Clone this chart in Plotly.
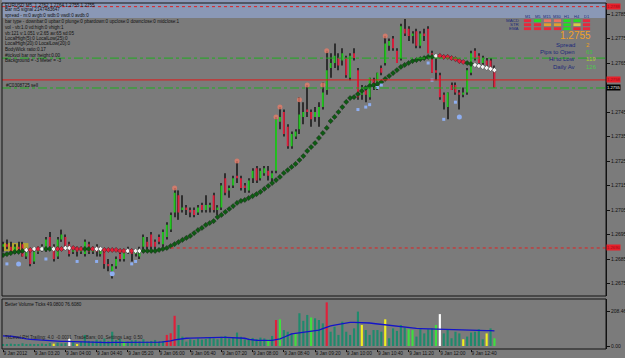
import plotly.graph_objects as go

# ---------------- data ----------------
opens = [1.2690,1.2691,1.2690,1.2688,1.2690,1.2691,1.2686,1.2688,1.2684,1.2688,
         1.2689,1.2689,1.2694,1.2690,1.2686,1.2693,1.2694,1.2691,1.2688,1.2689,
         1.2688,1.2687,1.2691,1.2688,1.2690,1.2687,1.2688,1.2683,1.2680,1.2682,
         1.2687,1.2685,1.2689,1.2688,1.2687,1.2686,1.2690,1.2692,1.2695,1.2692,
         1.2694,1.2691,1.2694,1.2697,1.2704,1.2711,1.2705,1.2706,1.2705,1.2705,
         1.2704,1.2707,1.2705,1.2706,1.2711,1.2705,1.2706,1.2718,1.2713,1.2715,
         1.2719,1.2718,1.2715,1.2713,1.2718,1.2722,1.2718,1.2720,1.2721,1.2718,
         1.2721,1.2741,1.2745,1.2739,1.2731,1.2735,1.2738,1.2743,1.2746,1.2745,
         1.2743,1.2743,1.2747,1.2754,1.2763,1.2765,1.2767,1.2766,1.2767,1.2759,
         1.2769,1.2762,1.2752,1.2754,1.2751,1.2758,1.2756,1.2763,1.2765,1.2772,
         1.2775,1.2770,1.2767,1.2779,1.2779,1.2776,1.2778,1.2772,1.2777,1.2779,
         1.2769,1.2762,1.2760,1.2752,1.2747,1.2756,1.2756,1.2753,1.2752,1.2753,
         1.2761,1.2770,1.2768,1.2765,1.2766,1.2766,1.2762]
highs = [1.2692,1.2693,1.2692,1.2691,1.2692,1.2692,1.2689,1.2689,1.2689,1.2690,
         1.2691,1.2694,1.2696,1.2691,1.2694,1.2697,1.2695,1.2692,1.2690,1.2690,
         1.2690,1.2693,1.2692,1.2690,1.2691,1.2690,1.2689,1.2685,1.2683,1.2686,
         1.2689,1.2689,1.2690,1.2689,1.2689,1.2690,1.2695,1.2694,1.2696,1.2693,
         1.2695,1.2697,1.2700,1.2704,1.2714,1.2713,1.2711,1.2707,1.2706,1.2706,
         1.2707,1.2708,1.2711,1.2708,1.2712,1.2707,1.2716,1.2720,1.2715,1.2719,
         1.2725,1.2719,1.2716,1.2718,1.2722,1.2723,1.2722,1.2723,1.2723,1.2721,
         1.2743,1.2747,1.2746,1.2740,1.2737,1.2738,1.2751,1.2749,1.2756,1.2746,
         1.2747,1.2749,1.2757,1.2770,1.2769,1.2773,1.2769,1.2771,1.2768,1.2769,
         1.2771,1.2763,1.2756,1.2755,1.2759,1.2759,1.2761,1.2764,1.2776,1.2775,
         1.2776,1.2771,1.2781,1.2783,1.2780,1.2778,1.2779,1.2778,1.2779,1.2780,
         1.2770,1.2767,1.2761,1.2753,1.2753,1.2757,1.2757,1.2754,1.2755,1.2763,
         1.2770,1.2771,1.2769,1.2768,1.2767,1.2767,1.2764]
lows = [1.2688,1.2689,1.2687,1.2687,1.2688,1.2686,1.2685,1.2682,1.2683,1.2687,
        1.2688,1.2688,1.2690,1.2684,1.2685,1.2692,1.2689,1.2686,1.2687,1.2686,
        1.2687,1.2686,1.2687,1.2687,1.2686,1.2686,1.2681,1.2680,1.2677,1.2681,
        1.2684,1.2684,1.2687,1.2684,1.2686,1.2685,1.2689,1.2689,1.2689,1.2688,
        1.2691,1.2690,1.2693,1.2696,1.2702,1.2701,1.2704,1.2703,1.2702,1.2702,
        1.2703,1.2704,1.2704,1.2704,1.2704,1.2703,1.2705,1.2711,1.2710,1.2714,
        1.2716,1.2713,1.2712,1.2712,1.2716,1.2716,1.2717,1.2719,1.2717,1.2716,
        1.2720,1.2738,1.2735,1.2730,1.2730,1.2734,1.2736,1.2740,1.2743,1.2739,
        1.2741,1.2739,1.2746,1.2752,1.2759,1.2763,1.2762,1.2764,1.2759,1.2758,
        1.2766,1.2750,1.2750,1.2749,1.2750,1.2754,1.2754,1.2760,1.2764,1.2770,
        1.2770,1.2765,1.2766,1.2776,1.2774,1.2773,1.2771,1.2771,1.2774,1.2769,
        1.2761,1.2758,1.2750,1.2746,1.2742,1.2754,1.2752,1.2746,1.2751,1.2752,
        1.2760,1.2766,1.2764,1.2764,1.2763,1.2762,1.2755]
closes = [1.2691,1.2690,1.2688,1.2690,1.2689,1.2686,1.2688,1.2683,1.2688,1.2689,
          1.2690,1.2693,1.2690,1.2685,1.2693,1.2695,1.2690,1.2687,1.2689,1.2688,
          1.2689,1.2692,1.2688,1.2689,1.2688,1.2689,1.2683,1.2682,1.2682,1.2685,
          1.2685,1.2688,1.2688,1.2687,1.2688,1.2689,1.2694,1.2690,1.2690,1.2690,
          1.2692,1.2696,1.2699,1.2703,1.2712,1.2704,1.2706,1.2705,1.2704,1.2703,
          1.2706,1.2705,1.2707,1.2707,1.2705,1.2706,1.2715,1.2712,1.2714,1.2718,
          1.2718,1.2714,1.2714,1.2717,1.2721,1.2717,1.2721,1.2722,1.2719,1.2720,
          1.2742,1.2743,1.2736,1.2731,1.2736,1.2737,1.2744,1.2745,1.2745,1.2742,
          1.2745,1.2747,1.2753,1.2762,1.2765,1.2768,1.2764,1.2769,1.2760,1.2768,
          1.2767,1.2751,1.2755,1.2752,1.2759,1.2756,1.2761,1.2761,1.2773,1.2774,
          1.2771,1.2765,1.2780,1.2777,1.2776,1.2777,1.2772,1.2777,1.2776,1.2769,
          1.2761,1.2761,1.2751,1.2749,1.2753,1.2754,1.2753,1.2752,1.2753,1.2762,
          1.2769,1.2767,1.2765,1.2767,1.2764,1.2762,1.2755]

ma_values = [1.26866,1.26870,1.26874,1.26879,1.26879,1.26883,1.26887,1.26887,
             1.26891,1.26891,1.26891,1.26891,1.26891,1.26891,1.26891,1.26891,
             1.26895,1.26895,1.26895,
             1.26891,1.26891,1.26891,1.26891,1.26891,1.26891,1.26891,
             1.26887,1.26887,1.26887,1.26887,
             1.26883,1.26883,1.26883,1.26883,1.26883,1.26883,1.26883,1.26883,1.26883,1.26883,
             1.26887,1.26891,1.26895,1.26903,1.26911,1.26919,1.26928,1.26936,1.26944,1.26956,
             1.26968,1.26977,1.26989,1.26997,1.27005,1.27021,1.27030,1.27042,1.27054,1.27066,
             1.27079,1.27087,1.27091,1.27099,1.27107,1.27115,1.27124,1.27136,1.27148,1.27160,
             1.27172,1.27185,1.27201,1.27213,1.27226,1.27238,1.27254,1.27270,1.27291,1.27307,
             1.27323,1.27344,1.27364,1.27385,1.27413,1.27430,1.27450,1.27470,1.27491,1.27507,
             1.27511,1.27523,1.27536,1.27548,1.27556,1.27560,1.27564,1.27572,1.27585,1.27597,
             1.27609,1.27621,1.27634,1.27642,1.27650,1.27658,1.27662,1.27666,1.27670,1.27675,
             1.27675,1.27679,1.27679,1.27675,1.27675,1.27670,1.27666,1.27658,1.27654,1.27650,
             1.27646,1.27642,1.27638,1.27634,1.27630,1.27626,1.27621]
ma_state = (list("gggggg") + list("wrwrwggwrrwwrrrggrww") + list("rrrrrr") + list("wrww")
            + ["g"] * 75 + ["w"] + ["r"] * 7 + ["g"] * 2 + ["w"] * 6)

volumes = [12,10,14,9,12,16,11,13,10,12,15,11,18,14,20,15,17,48,22,10,
           25,66,30,28,38,32,45,30,85,36,42,30,26,34,36,28,40,26,30,36,
           26,30,66,76,180,125,56,26,40,35,45,38,42,50,45,40,55,60,45,50,
           80,55,40,45,48,42,50,45,40,60,155,159,95,85,75,75,195,150,185,170,
           165,155,135,260,85,115,66,145,85,66,105,205,125,95,66,95,95,85,159,46,
           105,90,125,110,100,95,56,100,75,100,105,125,190,75,95,46,85,75,40,56,
           80,85,100,40,75,105,46]
vol_state = ("tttttttttttttytttwty" "tttttttttttgtttttttt"
             "ttrrrttttttttttttttt" "ttttttttgtrgtttgtttg"
             "tttrttttttttytttttyt" "ttttggtttttgwttttty"
             "tttttytgt")
vol_ma = [60,60,58,55,50,46,42,40,38,37,36,34,32,30,29,28,27,26,25,24,
          23,22,21,21,20,20,20,20,21,21,20,20,20,20,20,21,21,21,22,22,
          23,25,27,31,36,40,43,46,47,48,49,49,50,50,50,50,51,51,50,50,
          50,50,46,40,36,34,33,32,32,34,38,42,52,62,72,75,78,80,82,86,
          90,95,103,112,120,125,130,135,139,141,141,141,140,139,137,134,131,129,126,124,
          121,119,116,113,110,107,105,104,103,102,101,100,99,99,98,97,97,96,96,95,
          94,93,92,92,91,91,90]

time_ticks = [0, 8, 16, 24, 32, 40, 48, 56, 64, 72, 80, 88, 96, 104, 112, 120]
time_labels = ["9 Jan 2012", "9 Jan 03:20", "9 Jan 04:00", "9 Jan 04:40", "9 Jan 05:20",
               "9 Jan 06:00", "9 Jan 06:40", "9 Jan 07:20", "9 Jan 08:00", "9 Jan 08:40",
               "9 Jan 09:20", "9 Jan 10:00", "9 Jan 10:40", "9 Jan 11:20", "9 Jan 12:00",
               "9 Jan 12:40"]
price_ticks = [1.2675, 1.2685, 1.2695, 1.2705, 1.2715, 1.2725, 1.2735, 1.2745,
               1.2755, 1.2765, 1.2775, 1.2785]

high_marks_x = [44, 60, 70, 71, 76, 78, 82, 83, 98]
high_marks_y = [1.2714, 1.2725, 1.2743, 1.2747, 1.2750, 1.2756, 1.2756, 1.2770, 1.2776]
low_marks_x = [1, 11, 19, 24, 33, 34, 91, 93, 94, 96, 97, 109, 110, 113, 116]
low_marks_y = [1.2683, 1.2685, 1.2684, 1.2684, 1.2683, 1.2684, 1.2746, 1.2747, 1.2748,
               1.2755, 1.2756, 1.2765, 1.2758, 1.2742, 1.2749]
big_low_x = [4, 28, 117]
big_low_y = [1.2683, 1.2679, 1.2743]

level_top = 1.27880
level_green_hi = 1.27670
level_red = 1.27581
level_bid = 1.27548
level_low = 1.26895
level_low_start = 43
zone_x = [-0.25, 6.5]
zone_y = [1.26883, 1.26915]

tf_cols = ["M1", "M5", "M15", "M30", "H1", "H4", "D1"]
tf_rows = ["MACD", "STR", "EMA"]
tf_cells = [["r", "g", "s", "s", "g", "g", "r"],
            ["r", "r", "o", "o", "g", "y", "r"],
            ["r", "r", "r", "r", "g", "r", "r"]]
info_labels = ["Spread", "Pips to Open", "Hi to Low", "Daily Av"]
info_values = ["2", "63", "119", "126"]
info_value_colors = ["#e8a020", "#40c040", "#a8d030", "#50c850"]
big_price = "1.2755"

header_lines = ["EURUSD,M5  1.2762 1.2764 1.2755 1.2755",
                "Bar m5 signal 2147483647",
                "spread - m:0 avgb:0 wdb:0 vwdl:0 avdb:0",
                "bar type - downbar:0 upbar:0 plunge:0 pbardown:0 upclose:0 downclose:0 midclose:1",
                "vol - vb:1.0 vd:high:0 vhigh:1",
                "vb:121 v:1.051 v:2.65 av:65 sd:05",
                "LocalHigh(5):0 LocalLow(25):0",
                "LocalHigh(20):0 LocalLow(20):0",
                "BodyWick ratio:0.17",
                "#tickvol bar nor height:0.00",
                "Background = -3 Meter = -3"]

# ---------------- layout geometry ----------------
W, H = 625, 358
ML, MR, MT, MB = 2, 19, 3, 9
PW, PH = W - ML - MR, H - MT - MB


def fx(p):
    return (p - ML) / PW


def fy(p):
    return (H - MB - p) / PH


BG = "#7b7b7b"
GREEN = "#22c41f"
RED = "#dc1e3c"
WICK = "#2e2e2e"
FONT = "Liberation Sans"

n = len(opens)
idx = list(range(n))

fig = go.Figure()

# wicks (bar layer, drawn beneath the bodies)
fig.add_trace(go.Bar(x=idx, y=[h - l for h, l in zip(highs, lows)], base=lows, width=0.27,
                     marker=dict(color=WICK, line=dict(width=0)),
                     hoverinfo="skip", showlegend=False, xaxis="x", yaxis="y"))

# candle bodies
fig.add_trace(go.Candlestick(
    x=idx, open=opens, high=highs, low=lows, close=closes,
    increasing=dict(line=dict(color=GREEN, width=0), fillcolor=GREEN),
    decreasing=dict(line=dict(color=RED, width=0), fillcolor=RED),
    whiskerwidth=0, hoverinfo="skip", showlegend=False, xaxis="x", yaxis="y"))

# moving-average dots
ma_map = {"g": "#0d5c12", "r": "#e0203a", "w": "#f4f4f4"}
fig.add_trace(go.Scatter(x=idx, y=ma_values, mode="markers",
                         marker=dict(symbol="diamond", size=4,
                                     color=[ma_map[s] for s in ma_state],
                                     line=dict(color="#1a1a1a", width=0.4)),
                         hoverinfo="skip", showlegend=False, xaxis="x", yaxis="y"))

# high markers
fig.add_trace(go.Scatter(x=high_marks_x, y=high_marks_y, mode="markers",
                         marker=dict(symbol="circle", size=5, color="rgba(236,124,104,0.75)"),
                         hoverinfo="skip", showlegend=False, xaxis="x", yaxis="y"))
# low markers
fig.add_trace(go.Scatter(x=low_marks_x, y=low_marks_y, mode="markers",
                         marker=dict(symbol="square", size=3, color="#8eaef0"),
                         hoverinfo="skip", showlegend=False, xaxis="x", yaxis="y"))
fig.add_trace(go.Scatter(x=big_low_x, y=big_low_y, mode="markers",
                         marker=dict(symbol="circle", size=5, color="#8eaef0"),
                         hoverinfo="skip", showlegend=False, xaxis="x", yaxis="y"))

# volume
vol_map = {"t": "#1f8a6c", "r": "#e0203a", "g": "#3ee03e", "y": "#f0f020", "w": "#ffffff"}
fig.add_trace(go.Bar(x=idx, y=volumes, width=0.55,
                     marker=dict(color=[vol_map[s] for s in vol_state], line=dict(width=0)),
                     hoverinfo="skip", showlegend=False, xaxis="x2", yaxis="y2"))
fig.add_trace(go.Scatter(x=idx, y=vol_ma, mode="lines", line=dict(color="#1414c8", width=1.3),
                         hoverinfo="skip", showlegend=False, xaxis="x2", yaxis="y2"))

xr = [-0.256, 154.6]
main_dom = [fy(296), 1]
vol_dom = [0, fy(299)]

# the bid box covers the tick label at the bid level, as in the terminal
price_text = ["" if abs(p - level_bid) < 0.0002 else f"{p:.4f}" for p in price_ticks]

fig.update_layout(
    width=W, height=H,
    margin=dict(l=ML, r=MR, t=MT, b=MB, pad=0),
    paper_bgcolor=BG, plot_bgcolor=BG,
    barmode="overlay",
    font=dict(family=FONT, size=5, color="#111111"),
    showlegend=False,
    xaxis=dict(domain=[0, 1], range=xr, anchor="y", showticklabels=False, ticks="",
               showgrid=False, zeroline=False, rangeslider=dict(visible=False),
               showline=False, fixedrange=True),
    yaxis=dict(domain=main_dom, range=[1.266990, 1.278949], side="right", anchor="x",
               tickvals=price_ticks, ticktext=price_text,
               ticks="outside", ticklen=3, tickcolor="#111111", tickwidth=1,
               tickfont=dict(size=5, color="#111111", family=FONT),
               showgrid=False, zeroline=False, showline=True, linecolor="#111111",
               linewidth=1, automargin=False),
    xaxis2=dict(domain=[0, 1], range=xr, anchor="y2", matches="x",
                tickvals=time_ticks, ticktext=time_labels, ticks="outside", ticklen=2,
                tickcolor="#111111", ticklabelposition="outside right",
                tickangle=0, ticklabelstandoff=-1,
                tickfont=dict(size=4.8, color="#111111", family=FONT),
                showgrid=False, zeroline=False, showline=False, automargin=False),
    yaxis2=dict(domain=vol_dom, range=[-17.9, 280], side="right", anchor="x2",
                tickvals=[0, 208.46], ticktext=["0.00", "208.46"],
                ticks="outside", ticklen=3, tickcolor="#111111",
                tickfont=dict(size=5, color="#111111", family=FONT),
                showgrid=False, zeroline=False, showline=True, linecolor="#111111",
                linewidth=1, automargin=False),
)

shapes = []
# top information band
shapes.append(dict(type="rect", xref="paper", yref="paper", x0=0, x1=1, y0=fy(18), y1=fy(0),
                   fillcolor="#8a98b6", line=dict(width=0), layer="below"))
# yellow zone at left
shapes.append(dict(type="rect", xref="x", yref="y", x0=zone_x[0], x1=zone_x[1],
                   y0=zone_y[0], y1=zone_y[1], fillcolor="#b4a632", line=dict(width=0),
                   layer="below"))
# horizontal levels
shapes.append(dict(type="line", xref="paper", yref="y", x0=0, x1=1, y0=level_top, y1=level_top,
                   line=dict(color="#e02020", width=1, dash="dot")))
shapes.append(dict(type="line", xref="paper", yref="y", x0=0, x1=1, y0=level_green_hi,
                   y1=level_green_hi, line=dict(color="#1fae1f", width=1, dash="dashdot")))
shapes.append(dict(type="line", xref="paper", yref="y", x0=0, x1=1, y0=level_red, y1=level_red,
                   line=dict(color="#e01818", width=1)))
shapes.append(dict(type="line", xref="paper", yref="y", x0=0, x1=1, y0=level_bid, y1=level_bid,
                   line=dict(color="#1fae1f", width=1, dash="dashdot")))
shapes.append(dict(type="line", xref="x", yref="y", x0=level_low_start, x1=xr[1], y0=level_low,
                   y1=level_low, line=dict(color="#e02020", width=1, dash="dot")))
# pane frames
shapes.append(dict(type="rect", xref="paper", yref="paper", x0=0, x1=1, y0=main_dom[0],
                   y1=main_dom[1], line=dict(color="#151515", width=1)))
shapes.append(dict(type="rect", xref="paper", yref="paper", x0=0, x1=1, y0=vol_dom[0],
                   y1=vol_dom[1], line=dict(color="#151515", width=1)))

# timeframe table cells
cell_map = {"r": "#e8283c", "g": "#22dd22", "s": "#f07060", "o": "#e0a030", "y": "#d8c848"}
col_px = [527.5, 537.5, 547.5, 557.5, 567, 577, 586.5]
row_py = [20.7, 24.7, 28.7]
for k, row in enumerate(tf_cells):
    for j, c in enumerate(row):
        shapes.append(dict(type="rect", xref="paper", yref="paper",
                           x0=fx(col_px[j] - 3.6), x1=fx(col_px[j] + 3.6),
                           y0=fy(row_py[k] + 1.4), y1=fy(row_py[k] - 1.4),
                           fillcolor=cell_map[c], line=dict(width=0)))
fig.update_layout(shapes=shapes)

ann = []
# header text block
line_y = [5, 10, 15.5, 22, 27.5, 33, 38.5, 44, 49.5, 55.5, 61]
for t, yy in zip(header_lines, line_y):
    ann.append(dict(xref="paper", yref="paper", x=fx(3), y=fy(yy), text=t, showarrow=False,
                    xanchor="left", yanchor="middle", font=dict(size=4.6, color="#111111")))
ann.append(dict(xref="paper", yref="paper", x=fx(4), y=fy(85), text="#C0308725 sell",
                showarrow=False, xanchor="left", yanchor="middle",
                font=dict(size=4.6, color="#111111")))
# table headers and row names
for j, c in enumerate(tf_cols):
    ann.append(dict(xref="paper", yref="paper", x=fx(col_px[j]), y=fy(16), text=c,
                    showarrow=False, xanchor="center", yanchor="middle",
                    font=dict(size=4, color="#1c2a7a")))
for k, r in enumerate(tf_rows):
    ann.append(dict(xref="paper", yref="paper", x=fx(521), y=fy(row_py[k]), text=r,
                    showarrow=False, xanchor="right", yanchor="middle",
                    font=dict(size=4.4, color="#1c2a7a")))
# info panel
ann.append(dict(xref="paper", yref="paper", x=fx(593), y=fy(35.5), text=big_price,
                showarrow=False, xanchor="right", yanchor="middle",
                font=dict(size=10, color="#f0a028")))
info_y = [44.5, 52, 59.5, 67]
for lab, val, col, yy in zip(info_labels, info_values, info_value_colors, info_y):
    ann.append(dict(xref="paper", yref="paper", x=fx(577), y=fy(yy), text=lab,
                    showarrow=False, xanchor="right", yanchor="middle",
                    font=dict(size=6, color="#1c2a7a")))
    ann.append(dict(xref="paper", yref="paper", x=fx(584), y=fy(yy), text=val,
                    showarrow=False, xanchor="left", yanchor="middle",
                    font=dict(size=6, color=col)))
# price boxes on the axis
for lvl, bg, fc in [(level_top, "#e8202a", "#9a0c18"), (level_red, "#e8202a", "#9a0c18"),
                    (level_low, "#e8202a", "#9a0c18"), (level_bid, "#000000", "#ffffff")]:
    ann.append(dict(xref="paper", yref="y", x=fx(606), y=lvl, text=f"{lvl:.4f}",
                    showarrow=False, xanchor="left", yanchor="middle", bgcolor=bg,
                    borderpad=0, font=dict(size=4.2, color=fc)))
# volume pane texts
ann.append(dict(xref="paper", yref="paper", x=fx(3), y=fy(304),
                text="Better Volume Ticks 49.0800 76.6080", showarrow=False,
                xanchor="left", yanchor="middle", font=dict(size=4.6, color="#111111")))
ann.append(dict(xref="paper", yref="paper", x=fx(3), y=fy(337),
                text="TkLevel PH Trailing: 4.0  -0.0011  TradeBars: 00  Settings Lag: 0.50",
                showarrow=False, xanchor="left", yanchor="middle",
                font=dict(size=4.6, color="#222222")))
fig.update_layout(annotations=ann)

fig.write_html("out.html")
